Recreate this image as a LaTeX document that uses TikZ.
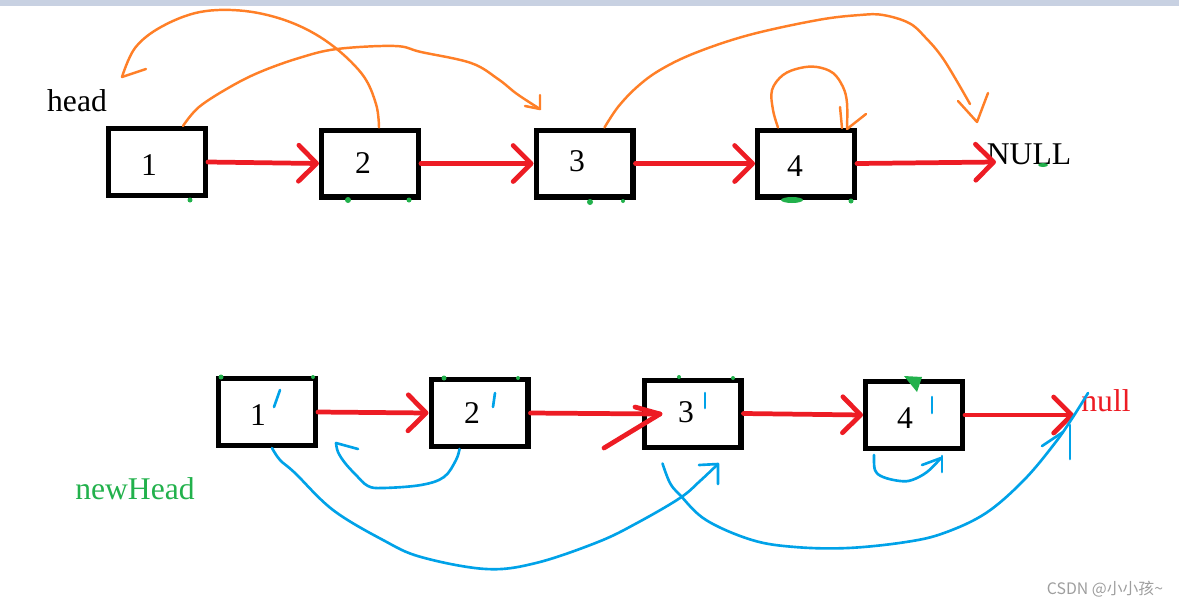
\documentclass[tikz,border=0pt]{standalone}
\usepackage{fontspec}
\setmainfont{Liberation Serif}
\newfontfamily\cjk{Noto Sans CJK SC}
\usetikzlibrary{arrows.meta}
\definecolor{pred}{HTML}{ED1C24}
\definecolor{porange}{HTML}{FF7F27}
\definecolor{pblue}{HTML}{00A2E8}
\definecolor{pgreen}{HTML}{22B14C}
\definecolor{barcol}{HTML}{C8D1E2}
\definecolor{wmark}{HTML}{9E9E9E}
\begin{document}
\begin{tikzpicture}[x=0.02cm,y=-0.02cm,
  box/.style={draw=black,line width=2.85pt,minimum width=1.94cm,minimum height=1.34cm,inner sep=0pt},
  lbl/.style={inner sep=0pt,font=\fontsize{18}{21}\selectfont},
  redarrow/.style={draw=pred,line width=2.7pt,line cap=round,line join=round,
     -{Straight Barb[length=0.36cm,width=0.72cm,round]}},
  redline/.style={draw=pred,line width=2.7pt,line cap=round,line join=round},
  oline/.style={draw=porange,line width=1.4pt,line cap=round,line join=round},
  bline/.style={draw=pblue,line width=1.5pt,line cap=round,line join=round},
  gdot/.style={fill=pgreen}]
\useasboundingbox (0,0) rectangle (1179,599);
\fill[barcol] (0,0) rectangle (1179,6);

% top row boxes
\node[box] (b1) at (157,162) {};
\node[box] (b2) at (370,163.5) {};
\node[box] (b3) at (584.5,163.5) {};
\node[box] (b4) at (806,163.5) {};
\node[lbl] (t1) at (149,165) {1};
\node[lbl] (t2) at (363,163) {2};
\node[lbl] (t3) at (577,161) {3};
\node[lbl] (t4) at (795,166) {4};
\node[lbl] (head) at (77,101) {head};
\node[lbl] (NULL) at (1029,154) {NULL};

% bottom row boxes
\node[box] (c1) at (267,412) {};
\node[box] (c2) at (479.5,413) {};
\node[box] (c3) at (692.5,413.5) {};
\node[box] (c4) at (914,415) {};
\node[lbl] (s1) at (258,415) {1};
\node[lbl] (s2) at (472,413) {2};
\node[lbl] (s3) at (686,412) {3};
\node[lbl] (s4) at (905,418) {4};
\node[lbl,text=pgreen] (newHead) at (135,489) {newHead};
\node[lbl,text=pred] (null) at (1106,401) {null};
\node[inner sep=0pt,text=wmark,font=\cjk\fontsize{9}{11}\selectfont] (wm) at (1105,589) {CSDN @小小孩\textasciitilde};

% red arrows top
\coordinate (nt) at (996,162);
\draw[redarrow] (b1.east) -- (b2.west);
\draw[redarrow] (b2.east) -- (b3.west);
\draw[redarrow] (b3.east) -- (b4.west);
\draw[redarrow] (b4.east) -- (nt);

% red arrows bottom
\coordinate (nt2) at (1074,415);
\coordinate (r3tip) at (660,414);
\coordinate (r3arm) at (635,407);
\coordinate (r3diag) at (604,448);
\draw[redarrow] (c1.east) -- (c2.west);
\draw[redline] (c2.east) -- (r3tip);
\draw[redline] (r3arm) -- (r3tip) -- (r3diag);
\draw[redarrow] (c3.east) -- (c4.west);
\draw[redarrow] (c4.east) -- (nt2);

% orange strokes
\coordinate (oA) at (122,77);
\draw[oline] plot[smooth,tension=0.6] coordinates {([xshift=0.18cm]b2.north) (376,104) (362,74) (329,43) (290,22) (245,11) (200,12) (161,27) (135,48) (oA)};
\draw[oline] (oA) -- (146,69);

\coordinate (oB) at (540,109);
\draw[oline] plot[smooth,tension=0.6] coordinates {([xshift=0.52cm]b1.north) (199,107) (230,87) (260,72) (299,58) (337,49) (395,46) (421,52) (471,63) (498,79) (517,94) (oB)};
\draw[oline] (525,106) -- (oB) -- (540,95);

\coordinate (oC) at (977,122);
\draw[oline] plot[smooth,tension=0.6] coordinates {([xshift=0.4cm]b3.north) (618,107) (637,87) (660,70) (695,53) (749,35) (818,20) (860,15) (883,15) (909,23) (925,37) (944,60) (970,104)};
\draw[oline] (958,101) -- (oC) -- (988,93);

\coordinate (oD) at (847,129);
\draw[oline] plot[smooth,tension=0.6] coordinates {([xshift=-0.56cm]b4.north) (773,110) (772,90) (783,75) (800,68) (817,67) (833,73) (843,87) (847,103) (oD)};
\draw[oline] (840,107) -- (842,128);
\draw[oline] (866,114) -- (oD);

% blue strokes
\coordinate (bA) at (336,443);
\draw[bline] plot[smooth,tension=0.6] coordinates {([xshift=-0.4cm]c2.south) (456,460) (444,477) (421,485) (383,488) (368,486) (356,475) (345,463) (338,452) (bA)};
\draw[bline] (bA) -- (358,449);

\coordinate (bB) at (718,464);
\draw[bline] plot[smooth,tension=0.6] coordinates {([xshift=0.1cm]c1.south) (280,460) (295,473) (333,510) (383,540) (421,557) (486,569) (536,563) (598,542) (637,523) (680,498) (700,481) (bB)};
\draw[bline] (699,465) -- (bB) -- (718,484);

\coordinate (bC) at (1088,393);
\draw[bline] plot[smooth,tension=0.6] coordinates {([xshift=-0.6cm,yshift=-0.28cm]c3.south) (670,483) (680,495) (706,520) (752,540) (795,547) (848,548) (906,542) (944,533) (986,513) (1024,480) (1055,443) (1073,417) (bC)};
\draw[bline] (1070,425) -- (1070,459);
\draw[bline] (1042,446) -- (1063,432);

\coordinate (bD) at (941,458);
\draw[bline] plot[smooth,tension=0.6] coordinates {([xshift=-0.8cm,yshift=-0.08cm]c4.south) (875,470) (883,477) (900,481) (912,480) (927,472) (bD)};
\draw[bline] (922,465) -- (bD);
\draw[bline] (942,456) -- (942,472);

% blue prime ticks
\draw[bline] (280,390) -- (274,407);
\draw[bline] (495,393) -- (493,407);
\draw[bline] (705,393) -- (705,408);
\draw[bline] (932,397) -- (932,413);

% green specks
\fill[gdot] (190,200) circle[radius=0.05cm];
\fill[gdot] (348,200) circle[radius=0.06cm];
\fill[gdot] (409,200) circle[radius=0.05cm];
\fill[gdot] (590,202) circle[radius=0.06cm];
\fill[gdot] (623,201) circle[radius=0.04cm];
\fill[gdot] (792,200) ellipse[x radius=0.22cm,y radius=0.06cm];
\fill[gdot] (851,201) circle[radius=0.05cm];
\fill[gdot] (1043,165) ellipse[x radius=0.1cm,y radius=0.04cm];
\fill[gdot] (221,377) circle[radius=0.05cm];
\fill[gdot] (313,377) circle[radius=0.04cm];
\fill[gdot] (444,378) circle[radius=0.05cm];
\fill[gdot] (518,378) circle[radius=0.04cm];
\fill[gdot] (679,377) circle[radius=0.04cm];
\fill[gdot] (733,378) circle[radius=0.04cm];
\fill[gdot] (904,376) -- (922,377) -- (917,392) -- cycle;
\end{tikzpicture}
\end{document}
